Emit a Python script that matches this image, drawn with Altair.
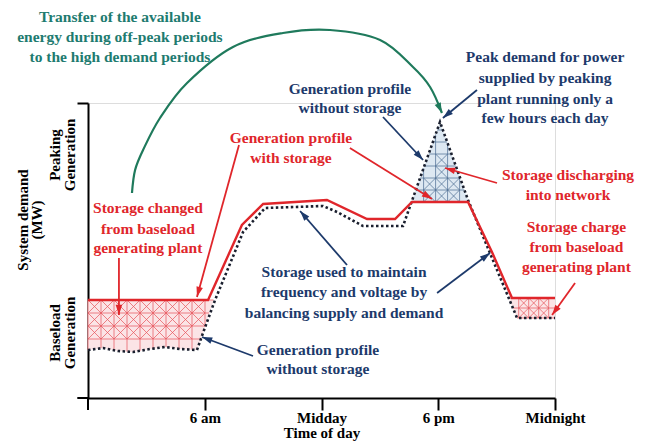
import math
import numpy as np
import altair as alt
import pandas as pd

# ---------------- data (x = hour of day, y = system demand, schematic MW units) ----------------
WIDTH, HEIGHT = 467, 295
X_DOMAIN = [0, 24]
Y_DOMAIN = [0, 295]

tick_hours = [6, 12, 18, 24]
tick_labels = ["6 am", "Midday", "6 pm", "Midnight"]

# generation profile with storage (red)
with_h = [0, 6.17, 7.91, 9.0, 12.28, 14.34, 15.78, 16.65, 19.53, 20.76, 21.79, 24]
with_mw = [98, 98, 173, 194, 198, 179, 179, 196, 196, 146, 100, 100]

# generation profile without storage (dotted)
without_h = [0, 0.77, 1.54, 2.31, 3.19, 3.96, 4.73, 5.6, 5.91, 6.53, 7.97, 9.1, 12.08,
             12.8, 14.13, 16.19, 18.09, 19.53, 20.55, 22.05, 24]
without_mw = [48, 50, 47, 46, 49, 51, 49, 48, 65, 98, 166, 190, 192,
              186, 172, 172, 276, 198, 150, 80, 80]

# storage charged from baseload (morning)
base_h = [0, 0.77, 1.54, 2.31, 3.19, 3.96, 4.73, 5.6, 5.91, 6.45]
base_top = [98] * 10
base_bot = [48, 50, 47, 46, 49, 51, 49, 48, 65, 98]

# storage discharging at peak
peak_h = [16.63, 18.09, 19.53]
peak_bot = [196, 196, 196]
peak_top = [196, 276, 198]

# storage charge (night)
charge_h = [21.62, 22.05, 24]
charge_top = [100, 100, 100]
charge_bot = [100, 80, 80]

# teal arc: transfer of energy
arc_h = [2.26, 2.42, 2.83, 3.70, 5.09, 7.45, 10.02, 12.44, 15.01, 16.70, 17.58, 18.19]
arc_mw = [205, 228, 248, 280, 315, 351, 365, 368, 358, 331, 311, 285]

NAVY = "#1d3a6b"
RED = "#e0262b"
TEAL = "#1e7b70"
ARC = "#1f7a5c"

# annotation texts
txt_lines = [
    "Transfer of the available", "energy during off-peak periods", "to the high demand periods",
    "Generation profile", "without storage",
    "Peak demand for power", "supplied by peaking", "plant running only a", "few hours each day",
    "Generation profile", "with storage",
    "Storage changed", "from baseload", "generating plant",
    "Storage discharging", "into network",
    "Storage charge", "from baseload", "generating plant",
    "Storage used to maintain", "frequency and voltage by", "balancing supply and demand",
    "Generation profile", "without storage",
]
txt_h = [1.64, 1.64, 1.64,
         13.46, 13.46,
         23.49, 23.49, 23.49, 23.49,
         10.43, 10.43,
         3.08, 3.08, 3.08,
         24.67, 24.67,
         25.1, 25.1, 25.1,
         13.16, 13.16, 13.16,
         11.82, 11.82]
txt_mw = [381, 361, 341,
          309, 290,
          341, 320, 299, 280,
          260, 240,
          190, 169, 150,
          223, 203,
          171, 151, 131,
          126, 106, 85,
          48, 29]
txt_col = [TEAL] * 3 + [NAVY] * 2 + [NAVY] * 4 + [RED] * 2 + [RED] * 3 + [RED] * 2 + [RED] * 3 + [NAVY] * 3 + [NAVY] * 2

# rotated y labels
rot_lines = ["System demand", "(MW)", "Peaking", "Generation", "Baseload", "Generation"]
rot_h = [-3.34, -2.6, -1.70, -0.93, -1.70, -0.93]
rot_mw = [178, 178, 243, 243, 65, 65]

# arrows: start -> end
arr_h1 = [15.16, 19.99, 13.46, 7.76, 1.59, 21.02, 25.03, 13.31, 17.94, 8.48]
arr_v1 = [281, 308, 250, 253, 140, 215, 115, 133, 105, 42]
arr_h2 = [17.22, 18.24, 17.68, 5.60, 1.59, 18.35, 23.85, 10.90, 20.66, 5.86]
arr_v2 = [238, 280, 199, 101, 83, 230, 83, 187, 145, 61]
arr_col = [NAVY, NAVY, RED, RED, RED, RED, RED, NAVY, NAVY, NAVY]

# ---------------- build tables ----------------
px_h = WIDTH / (X_DOMAIN[1] - X_DOMAIN[0])
px_v = HEIGHT / (Y_DOMAIN[1] - Y_DOMAIN[0])

with_df = pd.DataFrame({"h": with_h, "v": with_mw, "i": range(len(with_h))})
without_df = pd.DataFrame({"h": without_h, "v": without_mw, "i": range(len(without_h))})
base_df = pd.DataFrame({"h": base_h, "v": base_top, "v2": base_bot})
peak_df = pd.DataFrame({"h": peak_h, "v": peak_bot, "v2": peak_top})
charge_df = pd.DataFrame({"h": charge_h, "v": charge_top, "v2": charge_bot})
arc_df = pd.DataFrame({"h": arc_h, "v": arc_mw, "i": range(len(arc_h))})
txt_df = pd.DataFrame({"h": txt_h, "v": txt_mw, "t": txt_lines, "c": txt_col})
rot_df = pd.DataFrame({"h": rot_h, "v": rot_mw, "t": rot_lines})


def hatch(hs, a, b, cell_px, color):
    """Cross-hatch (grid + diagonals) lines inside the region between curves a and b."""
    hs = np.asarray(hs, float)
    lo = np.minimum(a, b).astype(float)
    hi = np.maximum(a, b).astype(float)
    dh = cell_px / px_h
    dv = cell_px / px_v
    segs = []
    fine = np.linspace(hs[0], hs[-1], 400)
    flo = np.interp(fine, hs, lo)
    fhi = np.interp(fine, hs, hi)
    vmin, vmax = flo.min(), fhi.max()
    # horizontal lines
    v = lo.min() if np.ptp(lo) < 1e-9 else vmin
    levels = np.arange(np.max(lo) if np.ptp(lo) < 1e-9 else np.min(hi), vmin - 1e-9, -dv) \
        if np.ptp(hi) < 1e-9 else np.arange(np.min(lo), vmax + 1e-9, dv)
    for lv in levels:
        inside = fine[(flo <= lv + 1e-6) & (fhi >= lv - 1e-6)]
        if len(inside) > 1:
            segs.append((inside[0], lv, inside[-1], lv))
    # vertical lines
    for hv in np.arange(hs[0], hs[-1] + 1e-9, dh):
        l, u = np.interp(hv, hs, lo), np.interp(hv, hs, hi)
        if u - l > 0.5:
            segs.append((hv, l, hv, u))
    # diagonals in complete cells
    for hv in np.arange(hs[0], hs[-1] - dh + 1e-9, dh):
        for lv in levels:
            for vv in (lv, lv - dv, lv + dv):
                pass
        for j in range(len(levels)):
            v0 = levels[j]
            v1 = v0 - dv if np.ptp(hi) < 1e-9 else v0 + dv
            vlo, vhi = min(v0, v1), max(v0, v1)
            ok = all(np.interp(x, hs, lo) <= vlo + 0.5 and np.interp(x, hs, hi) >= vhi - 0.5
                     for x in (hv, hv + dh))
            if ok:
                segs.append((hv, vlo, hv + dh, vhi))
                segs.append((hv, vhi, hv + dh, vlo))
    df = pd.DataFrame(segs, columns=["h", "v", "h2", "v2"])
    df["c"] = color
    return df


hatch_df = pd.concat([
    hatch(base_h, base_bot, base_top, 13, "#e8555c"),
    hatch(peak_h, peak_bot, peak_top, 12, "#4d6d92"),
    hatch(charge_h, charge_bot, charge_top, 10, "#e8555c"),
], ignore_index=True)

heads = []
for h1, v1, h2, v2, c in zip(arr_h1, arr_v1, arr_h2, arr_v2, arr_col):
    dx = (h2 - h1) * px_h
    dy = (v2 - v1) * px_v  # upward positive
    L = math.hypot(dx, dy)
    ux, uy = dx / L, dy / L
    ang = math.degrees(math.atan2(dx, dy)) % 360
    heads.append({"h": h2 - 6 * ux / px_h, "v": v2 - 6 * uy / px_v, "a": ang, "c": c})
# arc head
dx = (arc_h[-1] - arc_h[-2]) * px_h
dy = (arc_mw[-1] - arc_mw[-2]) * px_v
L = math.hypot(dx, dy)
heads.append({"h": arc_h[-1] - 6 * dx / L / px_h, "v": arc_mw[-1] - 6 * dy / L / px_v,
              "a": math.degrees(math.atan2(dx, dy)) % 360, "c": ARC})
head_df = pd.DataFrame(heads)
arr_df = pd.DataFrame({"h": arr_h1, "v": arr_v1, "h2": arr_h2, "v2": arr_v2, "c": arr_col})

ext_df = pd.DataFrame({"h": [-0.55, 0], "v": [0, -12], "h2": [0, 0], "v2": [0, 0]})

# ---------------- encodings ----------------
label_expr = " : ".join(
    f"datum.value == {v} ? '{l}'" for v, l in zip(tick_hours[:-1], tick_labels[:-1])
) + f" : '{tick_labels[-1]}'"

xs = alt.Scale(domain=X_DOMAIN, nice=False, zero=False)
ys = alt.Scale(domain=Y_DOMAIN, nice=False, zero=False)
x_axis = alt.Axis(values=tick_hours, labelExpr=label_expr, title="Time of day", grid=False,
                  domainColor="black", domainWidth=2, tickColor="black", tickWidth=2,
                  tickSize=12, labelPadding=0, labelFont="Liberation Serif", labelFontSize=15,
                  labelFontWeight="bold", labelColor="black", titleFont="Liberation Serif",
                  titleFontSize=15, titleFontWeight="bold", titleColor="black", titlePadding=0,
                  labelFlush=False)
y_axis = alt.Axis(values=[295], labels=False, title=None, grid=False, domainColor="black",
                  domainWidth=2, tickColor="black", tickWidth=2, tickSize=11)

X = alt.X("h:Q", scale=xs, axis=x_axis)
Y = alt.Y("v:Q", scale=ys, axis=y_axis)

base_area = alt.Chart(base_df).mark_area(color="#fbe4e6", opacity=1).encode(x=X, y=Y, y2="v2:Q")
peak_area = alt.Chart(peak_df).mark_area(color="#dde8f2", opacity=1).encode(x=X, y=Y, y2="v2:Q")
charge_area = alt.Chart(charge_df).mark_area(color="#fbe4e6", opacity=1).encode(x=X, y=Y, y2="v2:Q")

hatch_lines = alt.Chart(hatch_df).mark_rule(strokeWidth=0.8, opacity=0.9).encode(
    x=X, y=Y, x2="h2:Q", y2="v2:Q", color=alt.Color("c:N", scale=None))

without_line = alt.Chart(without_df).mark_line(
    color="#1a1f2e", strokeWidth=2.6, strokeDash=[2.5, 2.5]
).encode(x=X, y=Y, order="i:Q")
with_line = alt.Chart(with_df).mark_line(color=RED, strokeWidth=2.4).encode(x=X, y=Y, order="i:Q")

ext = alt.Chart(ext_df).mark_rule(color="black", strokeWidth=2).encode(x=X, y=Y, x2="h2:Q", y2="v2:Q")

arc = alt.Chart(arc_df).mark_line(color=ARC, strokeWidth=2.2, interpolate="cardinal").encode(
    x=X, y=Y, order="i:Q")

shafts = alt.Chart(arr_df).mark_rule(strokeWidth=1.8).encode(
    x=X, y=Y, x2="h2:Q", y2="v2:Q", color=alt.Color("c:N", scale=None))
head_marks = alt.Chart(head_df).mark_point(
    shape="M0,-1L0.55,0.7L-0.55,0.7Z", filled=True, size=144, opacity=1
).encode(x=X, y=Y, angle=alt.Angle("a:Q", scale=None), color=alt.Color("c:N", scale=None))

texts = alt.Chart(txt_df).mark_text(
    font="Liberation Serif", fontSize=15.5, fontWeight="bold", align="center", baseline="middle"
).encode(x=X, y=Y, text="t:N", color=alt.Color("c:N", scale=None))

rot_texts = alt.Chart(rot_df).mark_text(
    font="Liberation Serif", fontSize=15, fontWeight="bold", align="center", baseline="middle",
    angle=270, color="black"
).encode(x=X, y=Y, text="t:N")

chart = alt.layer(
    base_area, peak_area, charge_area, hatch_lines, without_line, with_line, ext, arc, shafts,
    head_marks, texts, rot_texts
).properties(
    width=WIDTH, height=HEIGHT,
    autosize=alt.AutoSizeParams(type="none"),
    padding={"left": 80, "top": 95, "right": 91, "bottom": 48},
).configure_view(stroke=None).configure(background="white")

chart.save("out.html", embed_options={"renderer": "svg", "actions": False})
